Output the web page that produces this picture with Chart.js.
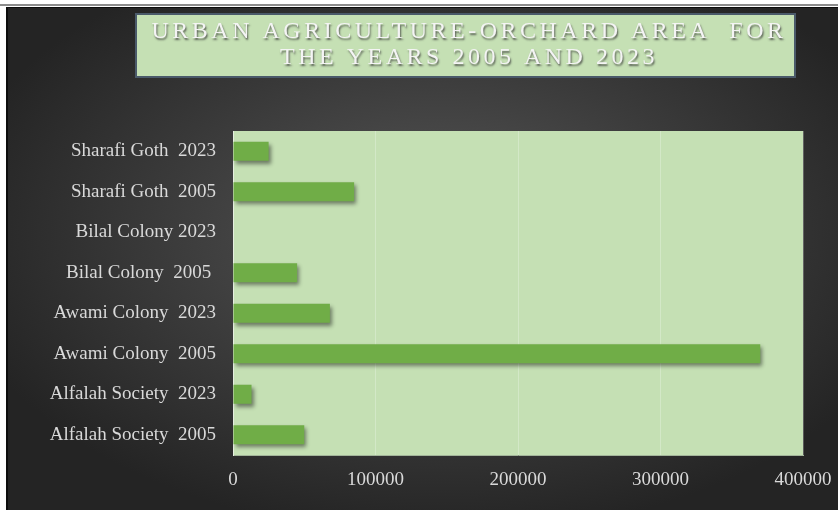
<!DOCTYPE html>
<html lang="en">
<head>
  <meta charset="UTF-8">
  <title>Urban Agriculture - Orchard Area</title>
  <script src="https://cdn.jsdelivr.net/npm/chart.js"></script>
  <style>
    body { margin: 0; background: #fff; }
    .topline { position: absolute; left: 0; top: 4px; width: 838px; height: 2px; background: #8c8c8c; }
    .frame {
      position: absolute; left: 6px; top: 7px; width: 830px; height: 503px;
      border-left: 2px solid #0d0d0d; border-top: 1px solid #0d0d0d;
      background: radial-gradient(ellipse 60% 60% at 52% 45%, #585858 0%, #3b3b3b 55%, #242424 100%);
    }
    canvas { display: block; }
  </style>
</head>
<body>
  <div class="topline"></div>
  <div class="frame">
    <canvas id="grafica" width="830" height="503"></canvas>
  </div>

  <script>
    const titulo = ['URBAN AGRICULTURE-ORCHARD AREA  FOR', 'THE YEARS 2005 AND 2023'];
    const categorias = [
      'Sharafi Goth  2023',
      'Sharafi Goth  2005',
      'Bilal Colony 2023',
      'Bilal Colony  2005 ',
      'Awami Colony  2023',
      'Awami Colony  2005',
      'Alfalah Society  2023',
      'Alfalah Society  2005'
    ];
    const areas = [25000, 85000, 0, 45000, 68000, 370000, 13000, 50000];
    const ejeX = { min: 0, max: 400000, paso: 100000 };

    // fondo verde del area de la grafica
    const fondoPlot = {
      id: 'fondoPlot',
      beforeDraw(chart) {
        const { ctx, chartArea: a } = chart;
        ctx.save();
        ctx.fillStyle = '#c5e0b4';
        ctx.fillRect(a.left, a.top, a.right - a.left, a.bottom - a.top);
        ctx.restore();
      }
    };

    // sombra de las barras
    const sombra = {
      id: 'sombra',
      beforeDatasetsDraw(chart) {
        const ctx = chart.ctx;
        ctx.save();
        ctx.shadowColor = 'rgba(0,0,0,0.45)';
        ctx.shadowBlur = 4;
        ctx.shadowOffsetX = 2;
        ctx.shadowOffsetY = 3;
      },
      afterDatasetsDraw(chart) {
        chart.ctx.restore();
      }
    };

    // caja del titulo
    const cajaTitulo = {
      id: 'cajaTitulo',
      afterDraw(chart) {
        const ctx = chart.ctx;
        ctx.save();
        ctx.fillStyle = '#c5e0b4';
        ctx.fillRect(128, 6, 659, 63);
        ctx.strokeStyle = '#4a5a6a';
        ctx.lineWidth = 2;
        ctx.strokeRect(128, 6, 659, 63);
        ctx.font = '24px "Liberation Serif", serif';
        ctx.letterSpacing = '3.5px';
        ctx.textAlign = 'center';
        ctx.textBaseline = 'middle';
        ctx.shadowColor = 'rgba(60,60,60,0.8)';
        ctx.shadowBlur = 2;
        ctx.shadowOffsetX = 1;
        ctx.shadowOffsetY = 2;
        ctx.fillStyle = '#f4f4f4';
        titulo.forEach((linea, i) => ctx.fillText(linea, 461, 24 + i * 26));
        ctx.restore();
      }
    };

    const fuente = { family: '"Liberation Serif", serif', size: 19 };

    new Chart(document.getElementById('grafica'), {
      type: 'bar',
      data: {
        labels: categorias,
        datasets: [{
          data: areas,
          backgroundColor: '#70ad47',
          borderWidth: 0,
          barPercentage: 0.47,
          categoryPercentage: 1
        }]
      },
      options: {
        indexAxis: 'y',
        responsive: false,
        animation: false,
        layout: { padding: { top: 123, right: 35, left: 0, bottom: 0 } },
        plugins: { legend: { display: false }, tooltip: { enabled: false } },
        scales: {
          x: {
            min: ejeX.min,
            max: ejeX.max,
            ticks: {
              stepSize: ejeX.paso, color: '#d9d9d9', font: fuente, padding: 14,
              callback: v => String(v)
            },
            grid: { color: 'rgba(255,255,255,0.25)', drawTicks: false },
            border: { color: '#a3b59a', width: 1 },
            afterFit(s) { s.height = 56; s.paddingLeft = 0; s.paddingRight = 0; }
          },
          y: {
            ticks: { color: '#d9d9d9', font: fuente, padding: 17 },
            grid: { display: false, drawTicks: false },
            border: { color: '#e6efe0', width: 1 },
            afterFit(s) { s.width = 225; }
          }
        }
      },
      plugins: [fondoPlot, sombra, cajaTitulo]
    });
  </script>
</body>
</html>
